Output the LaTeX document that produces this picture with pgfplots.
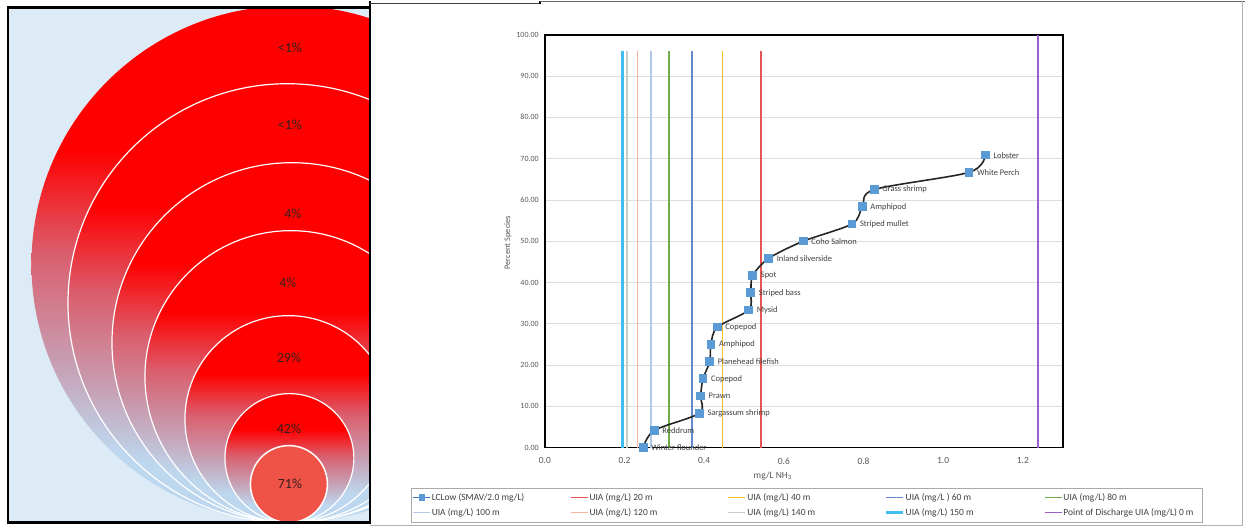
\documentclass[border=0pt]{standalone}
\usepackage{fontspec}
\setmainfont{Carlito}
\usepackage{pgfplots}
\pgfplotsset{compat=1.18}
\definecolor{bgblue}{RGB}{221,235,247}
\definecolor{cb}{RGB}{189,215,238}
\definecolor{cmA}{RGB}{200,155,175}
\definecolor{cmB}{RGB}{218,95,110}
\definecolor{pure}{RGB}{255,0,0}
\definecolor{coral}{RGB}{239,83,72}
\definecolor{pctcol}{RGB}{55,30,30}
\definecolor{tickgray}{RGB}{89,89,89}
\definecolor{labelgray}{RGB}{64,64,64}
\definecolor{gridgray}{RGB}{222,222,222}
\definecolor{legendgray}{RGB}{170,170,170}
\definecolor{curveblack}{RGB}{38,38,38}
\definecolor{markblue}{RGB}{91,155,213}
\definecolor{legblue}{RGB}{68,114,196}
\definecolor{uiaA}{RGB}{229,83,83}
\definecolor{uiaB}{RGB}{255,195,30}
\definecolor{uiaC}{RGB}{100,135,205}
\definecolor{uiaD}{RGB}{112,173,71}
\definecolor{uiaE}{RGB}{180,199,231}
\definecolor{uiaF}{RGB}{248,180,160}
\definecolor{uiaG}{RGB}{196,208,196}
\definecolor{uiaH}{RGB}{64,190,240}
\definecolor{uiaP}{RGB}{155,95,200}
\pgfdeclareverticalshading{rb}{100bp}{color(0bp)=(cb); color(32bp)=(cb); color(41bp)=(cmA); color(51bp)=(cmB); color(61bp)=(pure); color(100bp)=(pure)}
\pgfplotstableread[col sep=comma]{
x,y,label
0.247,0,Winter flounder
0.275,4.17,Reddrum
0.388,8.33,Sargassum shrimp
0.391,12.5,Prawn
0.397,16.67,Copepod
0.414,20.83,Planehead filefish
0.417,25.0,Amphipod
0.433,29.17,Copepod
0.512,33.33,Mysid
0.517,37.5,Striped bass
0.522,41.67,Spot
0.562,45.83,Inland silverside
0.649,50.0,Coho Salmon
0.771,54.17,Striped mullet
0.797,58.33,Amphipod
0.827,62.5,Grass shrimp
1.065,66.67,White Perch
1.106,70.83,Lobster
}\species
\pgfplotsset{
  vline/.style n args={2}{draw=#1, line width=#2,
    legend image code/.code={\draw[draw=#1, line width=#2] (0bp,0bp) -- (17bp,0bp);}},
}
\begin{document}
\begin{tikzpicture}
\begin{scope}[x=1bp,y=1bp]
\path[use as bounding box, fill=white] (0,0) rectangle (1245,529);
\end{scope}
% ---------- left panel ----------
\begin{axis}[at={(8bp,7bp)}, anchor=south west, scale only axis,
  width=362bp, height=515bp, xmin=8, xmax=370, ymin=7, ymax=522,
  hide axis, clip=true]
  \fill[bgblue] (axis cs:8,7) rectangle (axis cs:370,522);
  \shade[shading=rb] (axis cs:290,265.5) circle[radius=258.5];
  \shade[shading=rb, draw=white, line width=1.2bp] (axis cs:287.5,226.5) circle[radius=219.5];
  \shade[shading=rb, draw=white, line width=1.2bp] (axis cs:292,187) circle[radius=180];
  \shade[shading=rb, draw=white, line width=1.2bp] (axis cs:291,153) circle[radius=146];
  \shade[shading=rb, draw=white, line width=1.2bp] (axis cs:288.5,110.5) circle[radius=103.5];
  \shade[shading=rb, draw=white, line width=1.2bp] (axis cs:289.5,71.5) circle[radius=64.5];
  \filldraw[fill=coral, draw=white, line width=1.5bp] (axis cs:289,45.5) circle[radius=38.5];
  \begin{scope}[every node/.style={font=\fontsize{14}{16}\selectfont, text=pctcol}]
  \node at (axis cs:290,482) {<1\%};
  \node at (axis cs:290,405) {<1\%};
  \node at (axis cs:293,316) {4\%};
  \node at (axis cs:288,247) {4\%};
  \node at (axis cs:289,172) {29\%};
  \node at (axis cs:289,101) {42\%};
  \node at (axis cs:290,46) {71\%};
  \end{scope}
\end{axis}
\begin{scope}[x=1bp,y=1bp]
\draw[black, line width=2.5bp] (8,7) rectangle (370,522);
\draw[black, line width=1.5bp] (370,522) -- (370,529);
\draw[black!75, line width=1bp] (370,526) -- (540,526);
\draw[black, line width=1.5bp] (540,526) -- (540,529);
\draw[black!60, line width=0.8bp] (540,528.3) -- (1245,528.3);
\draw[black!30, line width=1bp] (1243,4) -- (1243,529);
\draw[black!30, line width=1bp] (370,4) -- (1243,4);
\end{scope}
% ---------- chart ----------
\begin{axis}[at={(545bp,82bp)}, anchor=south west, scale only axis,
  width=518bp, height=413bp,
  xmin=0, xmax=1.3, ymin=0, ymax=100,
  xtick={0,0.2,0.4,0.6,0.8,1.0,1.2}, ytick={0,10,...,100},
  major tick length=0pt,
  axis line style={black, line width=1.8bp},
  ymajorgrids, grid style={gridgray, line width=0.6bp},
  /pgf/number format/assume math mode=true,
  xticklabel style={font=\fontsize{9.5}{11}\selectfont, text=tickgray, inner sep=0pt,
    /pgf/number format/.cd, fixed, fixed zerofill, precision=1, /tikz/.cd},
  yticklabel style={font=\fontsize{8}{9}\selectfont, text=tickgray, inner sep=0pt,
    /pgf/number format/.cd, fixed, fixed zerofill, precision=2, /tikz/.cd},
  xticklabel shift=10bp, yticklabel shift=6bp,
  xlabel={mg/L NH\textsubscript{3}},
  xlabel style={at={(axis description cs:0.440,-0.0678)}, anchor=center,
    font=\fontsize{9.5}{11}\selectfont, text=tickgray},
  ylabel={Percent Species},
  ylabel style={at={(axis description cs:-0.0714,0.496)}, anchor=center,
    font=\fontsize{8.5}{10}\selectfont, text=tickgray},
  legend columns=5, legend cell align=left,
  legend style={at={(axis description cs:-0.2587,-0.0969)}, anchor=north west,
    draw=legendgray, line width=0.8bp, font=\fontsize{9.5}{11}\selectfont,
    text=labelgray, inner xsep=1bp, inner ysep=2bp,
    nodes={inner sep=1bp, minimum height=15bp}, column sep=0pt},
]
\addlegendimage{legend image code/.code={
  \draw[draw=legblue, line width=1.5bp] (0bp,0bp) -- (17bp,0bp);
  \fill[markblue] (5.9bp,-3.1bp) rectangle (11.1bp,3.1bp);}}
\addlegendentry{\makebox[137bp][l]{LCLow (SMAV/2.0 mg/L)}}
\addplot[vline={uiaA}{1.8bp}] coordinates {(0.543,0) (0.543,96)};
\addlegendentry{\makebox[137bp][l]{UIA (mg/L) 20 m}}
\addplot[vline={uiaB}{1.8bp}] coordinates {(0.446,0) (0.446,96)};
\addlegendentry{\makebox[137bp][l]{UIA (mg/L) 40 m}}
\addplot[vline={uiaC}{1.8bp}] coordinates {(0.369,0) (0.369,96)};
\addlegendentry{\makebox[137bp][l]{UIA (mg/L ) 60 m}}
\addplot[vline={uiaD}{1.8bp}] coordinates {(0.312,0) (0.312,96)};
\addlegendentry{\makebox[137bp][l]{UIA (mg/L) 80 m}}
\addplot[vline={uiaE}{1.5bp}] coordinates {(0.266,0) (0.266,96)};
\addlegendentry{\makebox[137bp][l]{UIA (mg/L) 100 m}}
\addplot[vline={uiaF}{1.5bp}] coordinates {(0.233,0) (0.233,96)};
\addlegendentry{\makebox[137bp][l]{UIA (mg/L) 120 m}}
\addplot[vline={uiaG}{1.5bp}] coordinates {(0.206,0) (0.206,96)};
\addlegendentry{\makebox[137bp][l]{UIA (mg/L) 140 m}}
\addplot[vline={uiaH}{2.5bp}] coordinates {(0.195,0) (0.195,96)};
\addlegendentry{\makebox[137bp][l]{UIA (mg/L) 150 m}}
\addplot[vline={uiaP}{1.8bp}] coordinates {(1.239,0) (1.239,100)};
\addlegendentry{\makebox[137bp][l]{Point of Discharge UIA (mg/L) 0 m}}
\addplot[forget plot, smooth, draw=curveblack, line width=1.6bp,
  mark=square*, mark size=3.5bp, mark options={fill=markblue, draw=markblue},
  nodes near coords, point meta=explicit symbolic,
  every node near coord/.append style={anchor=west, xshift=4bp,
    font=\fontsize{8.5}{10}\selectfont, text=labelgray}]
  table[x=x, y=y, meta=label] {\species};
\end{axis}
\end{tikzpicture}
\end{document}
